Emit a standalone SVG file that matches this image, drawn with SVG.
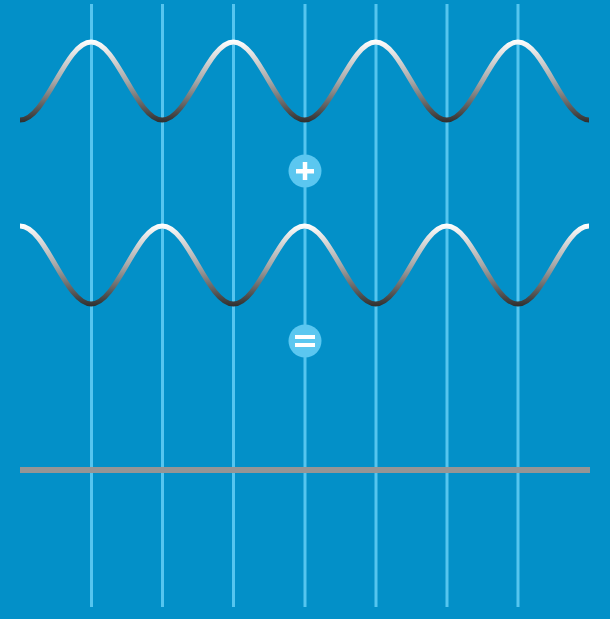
<svg xmlns="http://www.w3.org/2000/svg" width="610" height="619" viewBox="0 0 610 619">
<defs>
<style>
.grid{stroke:#55c5ef;stroke-width:3}
.wave{fill:none;stroke-width:5;stroke-linecap:butt}
.op{fill:#5bc7f0}
.sym{fill:#ffffff}
</style>
<linearGradient id="g1" gradientUnits="userSpaceOnUse" x1="0" y1="40" x2="0" y2="122">
<stop offset="0" stop-color="#ffffff"/>
<stop offset="0.5" stop-color="#a8a8a8"/>
<stop offset="1" stop-color="#303030"/>
</linearGradient>
<linearGradient id="g2" gradientUnits="userSpaceOnUse" x1="0" y1="224" x2="0" y2="306">
<stop offset="0" stop-color="#ffffff"/>
<stop offset="0.5" stop-color="#a8a8a8"/>
<stop offset="1" stop-color="#303030"/>
</linearGradient>
</defs>
<rect width="610" height="619" fill="#0390c8"/>
<g id="grid">
<line class="grid" x1="91.5" y1="4" x2="91.5" y2="607"/>
<line class="grid" x1="162.5" y1="4" x2="162.5" y2="607"/>
<line class="grid" x1="233.5" y1="4" x2="233.5" y2="607"/>
<line class="grid" x1="305" y1="4" x2="305" y2="607"/>
<line class="grid" x1="376" y1="4" x2="376" y2="607"/>
<line class="grid" x1="447" y1="4" x2="447" y2="607"/>
<line class="grid" x1="518" y1="4" x2="518" y2="607"/>
</g>
<g id="wave1">
<path class="wave" stroke="url(#g1)" d="M20,120 C45.9,120 65.2,42 91.125,42 S136.35,120 162.25,120 S207.5,42 233.375,42 S278.6,120 304.5,120 S349.7,42 375.625,42 S420.85,120 446.75,120 S492,42 517.875,42 S563.1,120 589,120"/>
</g>
<g id="wave2">
<path class="wave" stroke="url(#g2)" d="M20,226 C45.9,226 65.2,304 91.125,304 S136.35,226 162.25,226 S207.5,304 233.375,304 S278.6,226 304.5,226 S349.7,304 375.625,304 S420.85,226 446.75,226 S492,304 517.875,304 S563.1,226 589,226"/>
</g>
<g id="plus">
<circle class="op" cx="305" cy="171" r="16.5"/>
<rect class="sym" x="296" y="169" width="18" height="4.5"/>
<rect class="sym" x="302.75" y="162" width="4.5" height="18"/>
</g>
<g id="equals">
<circle class="op" cx="305" cy="341" r="16.5"/>
<rect class="sym" x="295" y="335" width="20" height="4"/>
<rect class="sym" x="295" y="343" width="20" height="4"/>
</g>
<g id="result">
<rect x="20" y="467" width="570" height="6" fill="#959595"/>
</g>
</svg>
